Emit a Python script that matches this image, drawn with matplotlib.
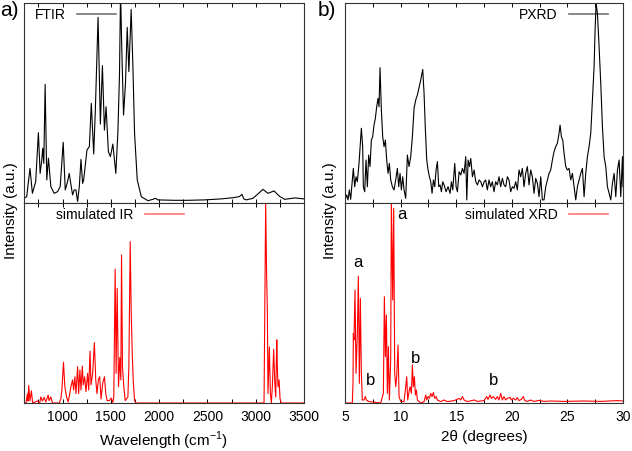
import numpy as np
import matplotlib
matplotlib.use("Agg")
import matplotlib.pyplot as plt
from matplotlib.lines import Line2D
from matplotlib.ticker import MultipleLocator

plt.rcParams['font.family'] = ['Liberation Sans', 'DejaVu Sans']
plt.rcParams['mathtext.fontset'] = 'custom'
plt.rcParams['mathtext.rm'] = 'Liberation Sans'

# FTIR (experimental), wavenumber vs relative intensity
ftir_x = [600, 628, 662, 687, 721, 749, 767, 784, 794, 805, 819, 836, 853, 878, 912, 947,
          975, 1006, 1027, 1051, 1068, 1103, 1120, 1138, 1155, 1173, 1190, 1207, 1218, 1252,
          1277, 1297, 1322, 1339, 1367, 1391, 1412, 1433, 1450, 1474, 1495, 1520, 1551, 1572,
          1589, 1600, 1613, 1631, 1651, 1669, 1686, 1710, 1728, 1745, 1773, 1815, 1884, 1936,
          1960, 1988, 2162, 2295, 2468, 2642, 2780, 2832, 2857, 2877, 2902, 2971, 3030, 3075,
          3127, 3190, 3249, 3301, 3405, 3500]
ftir_y = [0.021, 0.029, 0.171, 0.046, 0.104, 0.350, 0.146, 0.213, 0.272, 0.196, 0.592, 0.113,
          0.222, 0.080, 0.046, 0.054, 0.080, 0.302, 0.063, 0.104, 0.146, 0.038, 0.063, 0.063,
          0.005, 0.080, 0.216, 0.096, 0.113, 0.263, 0.280, 0.497, 0.243, 0.464, 0.928, 0.393,
          0.686, 0.363, 0.480, 0.255, 0.230, 0.293, 0.146, 0.347, 0.640, 1.06, 0.764, 0.438,
          0.597, 0.878, 0.656, 0.968, 0.681, 0.347, 0.113, 0.029, 0.009, 0.016, 0.021, 0.013,
          0.011, 0.011, 0.013, 0.018, 0.025, 0.030, 0.041, 0.018, 0.013, 0.021, 0.046, 0.066,
          0.046, 0.058, 0.030, 0.016, 0.023, 0.018]

# simulated IR
sir_x = [600, 621, 635, 642, 649, 662, 676, 690, 739, 763, 774, 791, 808, 826, 850, 860, 878,
         895, 964, 982, 992, 1009, 1023, 1041, 1058, 1086, 1103, 1114, 1127, 1138, 1155, 1166,
         1179, 1190, 1204, 1214, 1228, 1242, 1259, 1270, 1284, 1294, 1311, 1329, 1343, 1356,
         1370, 1384, 1398, 1415, 1433, 1447, 1461, 1485, 1502, 1520, 1530, 1544, 1554, 1565,
         1579, 1592, 1603, 1610, 1620, 1634, 1648, 1676, 1686, 1700, 1710, 1721, 1731, 1745,
         1762, 3086, 3103, 3113, 3120, 3127, 3141, 3152, 3162, 3172, 3186, 3197, 3207, 3218,
         3224, 3231, 3242, 3252, 3263, 3500]
sir_y = [0.0, 0.0, 0.045, 0.01, 0.087, 0.01, 0.061, 0.0, 0.01, 0.0, 0.03, 0.01, 0.028, 0.005,
         0.039, 0.012, 0.030, 0.0, 0.0, 0.02, 0.063, 0.203, 0.081, 0.03, 0.005, 0.081, 0.115,
         0.065, 0.131, 0.047, 0.181, 0.047, 0.164, 0.065, 0.184, 0.09, 0.131, 0.057, 0.148,
         0.065, 0.259, 0.09, 0.148, 0.301, 0.115, 0.047, 0.115, 0.131, 0.02, 0.098, 0.131,
         0.047, 0.012, 0.012, 0.025, 0.003, 0.03, 0.667, 0.148, 0.572, 0.081, 0.227, 0.115,
         0.738, 0.181, 0.081, 0.012, 0.03, 0.181, 0.805, 0.464, 0.248, 0.115, 0.012, 0.0, 0.0,
         1.0, 0.63, 0.48, 0.047, 0.28, 0.047, 0.0, 0.081, 0.268, 0.106, 0.03, 0.315, 0.181,
         0.081, 0.115, 0.02, 0.0, 0.0]

# PXRD (experimental), 2theta vs relative intensity
pxrd_x = [5.00, 5.15, 5.27, 5.39, 5.51, 5.66, 5.75, 5.87, 5.99, 6.11, 6.26, 6.47, 6.59, 6.65,
          6.77, 6.89, 7.01, 7.13, 7.25, 7.37, 7.49, 7.61, 7.73, 7.85, 7.97, 8.06, 8.15, 8.27,
          8.39, 8.51, 8.63, 8.75, 8.87, 8.99, 9.11, 9.26, 9.41, 9.56, 9.71, 9.83, 9.95, 10.07,
          10.19, 10.31, 10.46, 10.61, 10.76, 10.91, 11.06, 11.21, 11.36, 11.51, 11.66, 11.81,
          11.99, 12.11, 12.23, 12.35, 12.47, 12.59, 12.71, 12.83, 12.95, 13.07, 13.19, 13.31,
          13.43, 13.55, 13.67, 13.79, 13.91, 14.09, 14.27, 14.45, 14.57, 14.69, 14.87, 14.99,
          15.11, 15.26, 15.41, 15.56, 15.71, 15.86, 15.95, 16.07, 16.19, 16.31, 16.46, 16.61,
          16.76, 16.91, 17.06, 17.21, 17.36, 17.51, 17.65, 17.80, 17.95, 18.10, 18.25, 18.40,
          18.55, 18.70, 18.85, 19.00, 19.15, 19.30, 19.45, 19.60, 19.75, 19.90, 20.05, 20.20,
          20.35, 20.50, 20.65, 20.80, 20.95, 21.10, 21.25, 21.40, 21.55, 21.70, 21.85, 22.00,
          22.15, 22.30, 22.45, 22.60, 22.75, 22.90, 23.05, 23.20, 23.35, 23.50, 23.65, 23.80,
          23.95, 24.10, 24.25, 24.34, 24.46, 24.58, 24.70, 24.85, 25.00, 25.15, 25.30, 25.45,
          25.60, 25.75, 25.90, 26.05, 26.20, 26.35, 26.50, 26.65, 26.80, 26.95, 27.10, 27.25,
          27.40, 27.49, 27.58, 27.70, 27.85, 28.00, 28.15, 28.30, 28.45, 28.60, 28.75, 28.90,
          29.05, 29.20, 29.35, 29.50, 29.65, 29.80, 29.95, 30.00]
pxrd_y = [0.013, 0.038, 0.013, 0.063, 0.016, 0.113, 0.171, 0.079, 0.129, 0.104, 0.196, 0.372,
          0.280, 0.079, 0.054, 0.213, 0.079, 0.238, 0.180, 0.313, 0.330, 0.388, 0.422, 0.480,
          0.522, 0.480, 0.676, 0.464, 0.330, 0.280, 0.313, 0.213, 0.146, 0.196, 0.113, 0.079,
          0.063, 0.113, 0.171, 0.079, 0.146, 0.063, 0.129, 0.063, 0.021, 0.238, 0.180, 0.230,
          0.330, 0.472, 0.514, 0.539, 0.577, 0.614, 0.667, 0.547, 0.363, 0.213, 0.163, 0.129,
          0.104, 0.046, 0.113, 0.079, 0.163, 0.205, 0.079, 0.088, 0.054, 0.104, 0.088, 0.054,
          0.079, 0.046, 0.104, 0.063, 0.196, 0.079, 0.054, 0.154, 0.138, 0.171, 0.146, 0.230,
          0.013, 0.213, 0.180, 0.221, 0.129, 0.163, 0.104, 0.088, 0.113, 0.104, 0.079, 0.104,
          0.113, 0.063, 0.113, 0.079, 0.104, 0.054, 0.104, 0.088, 0.129, 0.079, 0.121, 0.088,
          0.079, 0.129, 0.113, 0.054, 0.079, 0.071, 0.104, 0.063, 0.163, 0.129, 0.171, 0.079,
          0.146, 0.180, 0.088, 0.163, 0.129, 0.046, 0.121, 0.096, 0.029, 0.129, 0.013, 0.013,
          0.079, 0.113, 0.146, 0.163, 0.213, 0.255, 0.280, 0.297, 0.347, 0.388, 0.330, 0.313,
          0.246, 0.180, 0.163, 0.171, 0.113, 0.146, 0.079, 0.013, 0.079, 0.113, 0.146, 0.171,
          0.029, 0.146, 0.230, 0.280, 0.347, 0.514, 0.681, 0.865, 0.998, 0.948, 0.781, 0.597,
          0.380, 0.230, 0.180, 0.079, 0.046, 0.013, 0.096, 0.146, 0.029, 0.163, 0.213, 0.029,
          0.230, 0.079]

# simulated XRD
sxrd_x = [5.00, 5.66, 5.72, 5.75, 5.81, 5.90, 5.99, 6.11, 6.20, 6.29, 6.38, 6.47, 6.56, 6.71,
          6.83, 6.92, 7.16, 8.21, 8.45, 8.54, 8.63, 8.72, 8.81, 8.90, 8.99, 9.11, 9.17, 9.29,
          9.38, 9.47, 9.56, 9.65, 9.77, 9.86, 10.01, 10.31, 10.46, 10.55, 10.64, 10.76, 10.85,
          10.97, 11.06, 11.15, 11.24, 11.33, 11.42, 11.51, 11.81, 12.11, 12.26, 12.35, 12.47,
          12.59, 12.71, 12.83, 12.95, 13.07, 13.19, 13.31, 13.61, 13.91, 14.21, 14.81, 15.26,
          15.41, 15.56, 15.71, 16.01, 16.61, 16.91, 17.51, 17.74, 17.86, 18.04, 18.16, 18.34,
          18.55, 18.70, 18.85, 19.00, 19.15, 19.30, 19.45, 19.60, 19.84, 19.96, 20.14, 20.35,
          20.50, 20.65, 20.86, 21.04, 21.16, 21.40, 21.70, 22.00, 22.45, 22.90, 23.50, 24.70,
          26.50, 28.00, 29.50, 30.00]
sxrd_y = [0.0, 0.0, 0.10, 0.347, 0.314, 0.564, 0.148, 0.347, 0.633, 0.098, 0.522, 0.148, 0.015,
          0.015, 0.032, 0.015, 0.007, 0.0, 0.048, 0.530, 0.231, 0.439, 0.048, 0.281, 0.015,
          0.214, 1.02, 0.514, 0.971, 0.148, 0.081, 0.131, 0.289, 0.032, 0.007, 0.007, 0.081,
          0.131, 0.015, 0.057, 0.081, 0.048, 0.190, 0.081, 0.131, 0.040, 0.065, 0.015, 0.0,
          0.007, 0.040, 0.015, 0.032, 0.023, 0.048, 0.032, 0.052, 0.023, 0.032, 0.015, 0.007,
          0.015, 0.007, 0.012, 0.023, 0.015, 0.032, 0.015, 0.007, 0.015, 0.008, 0.012, 0.032,
          0.018, 0.040, 0.023, 0.032, 0.018, 0.032, 0.015, 0.048, 0.015, 0.032, 0.015, 0.023,
          0.028, 0.015, 0.023, 0.015, 0.027, 0.012, 0.018, 0.032, 0.012, 0.008, 0.015, 0.008,
          0.013, 0.008, 0.010, 0.008, 0.010, 0.008, 0.012, 0.010]

# peak labels on simulated XRD
lab_text = ['a', 'a', 'b', 'b', 'b']
lab_x = [6.2, 10.16, 7.3, 11.36, 18.34]
lab_y = [0.70, 0.94, 0.11, 0.22, 0.11]

fig = plt.figure(figsize=(6.32, 4.51), dpi=100)
W, H = 632, 451


def box(x0, x1, y0, y1):
    return [x0 / W, 1 - y1 / H, (x1 - x0) / W, (y1 - y0) / H]


ax_ir_top = fig.add_axes(box(24, 304, 3, 202.5))
ax_ir_bot = fig.add_axes(box(24, 304, 202.5, 403))
ax_xr_top = fig.add_axes(box(345, 623, 3, 202.5))
ax_xr_bot = fig.add_axes(box(345, 623, 202.5, 403))

ax_ir_top.plot(ftir_x, ftir_y, color='black', lw=0.8)
ax_ir_bot.plot(sir_x, sir_y, color='red', lw=0.8)
ax_xr_top.plot(pxrd_x, pxrd_y, color='black', lw=0.8)
ax_xr_bot.plot(sxrd_x, sxrd_y, color='red', lw=0.8)

for ax in [ax_ir_top, ax_ir_bot]:
    ax.set_xlim(600, 3500)
    ax.xaxis.set_major_locator(MultipleLocator(500))
    ax.xaxis.set_minor_locator(MultipleLocator(250))
for ax in [ax_xr_top, ax_xr_bot]:
    ax.set_xlim(5, 30)
    ax.xaxis.set_major_locator(MultipleLocator(5))
    ax.xaxis.set_minor_locator(MultipleLocator(2.5))

for ax in [ax_ir_top, ax_ir_bot, ax_xr_top, ax_xr_bot]:
    ax.set_ylim(0, 1.0)
    ax.set_yticks([])
    ax.tick_params(axis='x', which='both', direction='in', top=True, bottom=True,
                   length=3, width=0.7, labelsize=10, pad=5)
    for s in ax.spines.values():
        s.set_linewidth(0.8)
        s.set_color('#333333')

ax_ir_top.tick_params(labelbottom=False)
ax_xr_top.tick_params(labelbottom=False)

ax_ir_bot.set_xlabel('Wavelength (cm$^{-1}$)', fontsize=11)
ax_xr_bot.set_xlabel('2θ (degrees)', fontsize=11)

fig.text(11.5 / W, 1 - 211 / H, 'Intensity (a.u.)', rotation=90, ha='center', va='center', fontsize=11)
fig.text(330 / W, 1 - 211 / H, 'Intensity (a.u.)', rotation=90, ha='center', va='center', fontsize=11)

fig.text(0, 1 - 1 / H, 'a)', ha='left', va='top', fontsize=15)
fig.text(318 / W, 1 - 1 / H, 'b)', ha='left', va='top', fontsize=15)


def key(ax, label, color, loc, anchor):
    h = Line2D([], [], color=color, lw=1.2, alpha=0.55)
    ax.legend([h], [label], loc=loc, bbox_to_anchor=anchor, frameon=False, markerfirst=False,
              fontsize=10, handlelength=2.8, handletextpad=0.8, borderaxespad=0,
              borderpad=0)


key(ax_ir_top, 'FTIR', 'black', 'upper left', (0.04, 0.975))
key(ax_ir_bot, 'simulated IR', 'red', 'upper left', (0.115, 0.975))
key(ax_xr_top, 'PXRD', 'black', 'upper right', (0.945, 0.975))
key(ax_xr_bot, 'simulated XRD', 'red', 'upper right', (0.945, 0.975))

for t, x, y in zip(lab_text, lab_x, lab_y):
    ax_xr_bot.text(x, y, t, ha='center', va='center', fontsize=12)

fig.savefig('out.png', dpi=100)
